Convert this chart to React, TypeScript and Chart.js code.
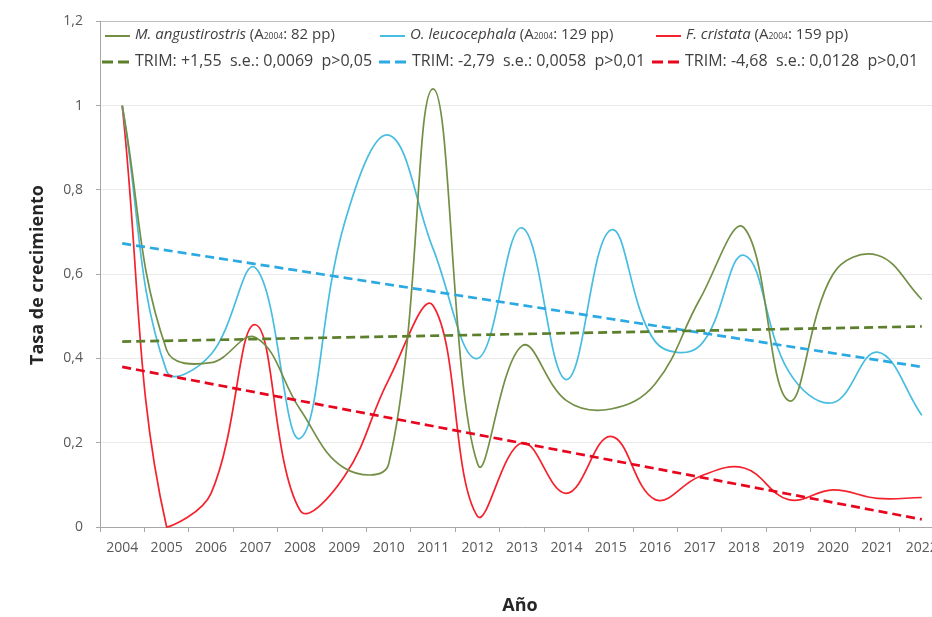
import React, { useEffect, useRef } from "react";
import { Chart, registerables } from "chart.js";

Chart.register(...registerables);

// Years on the category axis
const years = [
  "2004", "2005", "2006", "2007", "2008", "2009", "2010", "2011", "2012", "2013",
  "2014", "2015", "2016", "2017", "2018", "2019", "2020", "2021", "2022",
];

// Growth rate per species
const mAngustirostris = [1.0, 0.42, 0.39, 0.45, 0.28, 0.14, 0.15, 1.04, 0.15, 0.43, 0.3, 0.28, 0.34, 0.54, 0.71, 0.3, 0.6, 0.645, 0.54];
const oLeucocephala = [1.0, 0.37, 0.41, 0.615, 0.21, 0.72, 0.93, 0.66, 0.4, 0.71, 0.35, 0.705, 0.44, 0.43, 0.645, 0.37, 0.295, 0.415, 0.265];
const fCristata = [1.0, 0.0, 0.08, 0.48, 0.04, 0.12, 0.35, 0.525, 0.025, 0.2, 0.08, 0.215, 0.065, 0.12, 0.14, 0.065, 0.088, 0.068, 0.07];

// Linear TRIM trends: start (2004) and end (2022) values
const trendMStart = 0.44, trendMEnd = 0.476;
const trendOStart = 0.673, trendOEnd = 0.38;
const trendFStart = 0.38, trendFEnd = 0.018;

// Legend texts
const speciesNames = ["M. angustirostris", "O. leucocephala", "F. cristata"];
const speciesCounts = [": 82 pp)", ": 129 pp)", ": 159 pp)"];
const trimLabels = [
  "TRIM: +1,55  s.e.: 0,0069  p>0,05",
  "TRIM: -2,79  s.e.: 0,0058  p>0,01",
  "TRIM: -4,68  s.e.: 0,0128  p>0,01",
];
const yTickLabels = ["0", "0,2", "0,4", "0,6", "0,8", "1", "1,2"];

const FONT = "'Open Sans'";
const lineColors = ["#738f45", "#47bde0", "#f5212c"];
const trendColors = ["#5c7f2c", "#2aa9e2", "#e8061f"];

function trend(start: number, end: number) {
  return years.map((_, i) => (i === 0 ? start : i === years.length - 1 ? end : null));
}

const overlayPlugin = {
  id: "overlay",
  afterDraw(chart: any) {
    const ctx = chart.ctx as CanvasRenderingContext2D;
    ctx.save();
    const colX1 = [135, 410, 686];
    const colX2 = [135, 412, 685];
    const row1 = 35;
    const row2 = 61;
    ctx.textBaseline = "middle";
    ctx.textAlign = "left";
    for (let i = 0; i < 3; i++) {
      // solid sample
      let x = colX1[i];
      ctx.strokeStyle = lineColors[i];
      ctx.lineWidth = 2;
      ctx.setLineDash([]);
      ctx.beginPath();
      ctx.moveTo(x - 30, row1 + 1);
      ctx.lineTo(x - 5, row1 + 1);
      ctx.stroke();
      // label with italic species name
      ctx.fillStyle = "#404040";
      ctx.font = `italic 15px ${FONT}`;
      ctx.fillText(speciesNames[i], x, row1);
      x += ctx.measureText(speciesNames[i]).width;
      ctx.font = `15px ${FONT}`;
      ctx.fillText(" (A", x, row1);
      x += ctx.measureText(" (A").width;
      ctx.font = `8.5px ${FONT}`;
      ctx.fillText("2004", x, row1 + 2);
      x += ctx.measureText("2004").width;
      ctx.font = `15px ${FONT}`;
      ctx.fillText(speciesCounts[i], x, row1);

      // dashed sample
      const x2 = colX2[i];
      ctx.strokeStyle = trendColors[i];
      ctx.lineWidth = 3;
      ctx.setLineDash([11, 5]);
      ctx.beginPath();
      ctx.moveTo(x2 - 33, row2 + 1);
      ctx.lineTo(x2 - 6, row2 + 1);
      ctx.stroke();
      ctx.setLineDash([]);
      ctx.font = `16px ${FONT}`;
      ctx.fillStyle = "#404040";
      ctx.fillText(trimLabels[i], x2, row2);
    }

    // axis titles
    ctx.fillStyle = "#262626";
    ctx.font = `bold 18px ${FONT}`;
    ctx.textAlign = "center";
    ctx.fillText("Año", 520, 606);
    ctx.translate(38, 275);
    ctx.rotate(-Math.PI / 2);
    ctx.fillText("Tasa de crecimiento", 0, 0);
    ctx.restore();
  },
};

export default function App() {
  const ref = useRef<HTMLCanvasElement | null>(null);

  useEffect(() => {
    if (!ref.current) return;
    const solid = (label: string, data: number[], color: string) => ({
      label,
      data,
      borderColor: color,
      backgroundColor: color,
      borderWidth: 1.7,
      tension: 0.4,
      pointRadius: 0,
      clip: false as any,
    });
    const dashed = (label: string, data: (number | null)[], color: string) => ({
      label,
      data,
      borderColor: color,
      backgroundColor: color,
      borderWidth: 2.7,
      borderDash: [9, 5],
      tension: 0,
      spanGaps: true,
      pointRadius: 0,
    });
    const chart = new Chart(ref.current, {
      type: "line",
      data: {
        labels: years,
        datasets: [
          dashed(trimLabels[0], trend(trendMStart, trendMEnd), trendColors[0]),
          dashed(trimLabels[1], trend(trendOStart, trendOEnd), trendColors[1]),
          dashed(trimLabels[2], trend(trendFStart, trendFEnd), trendColors[2]),
          solid(speciesNames[0], mAngustirostris, lineColors[0]),
          solid(speciesNames[1], oLeucocephala, lineColors[1]),
          solid(speciesNames[2], fCristata, lineColors[2]),
        ],
      },
      options: {
        responsive: false,
        animation: false,
        devicePixelRatio: 1,
        layout: { padding: { left: 0, top: 18, right: 16, bottom: 50 } },
        plugins: { legend: { display: false }, tooltip: { enabled: false } },
        scales: {
          x: {
            type: "category",
            offset: true,
            grid: { offset: true, drawOnChartArea: false, tickLength: 5, color: "#a6a6a6" },
            border: { color: "#a6a6a6" },
            ticks: {
              autoSkip: false,
              maxRotation: 0,
              color: "#595959",
              font: { family: FONT, size: 14 },
              padding: 8,
            },
            afterFit: (s: any) => {
              s.height = 40;
            },
          },
          y: {
            min: 0,
            max: 1.2,
            ticks: {
              stepSize: 0.2,
              color: "#595959",
              font: { family: FONT, size: 14 },
              padding: 13,
              callback: (v: any) => yTickLabels[Math.round(Number(v) / 0.2)],
            },
            grid: {
              color: (c: any) => (c.tick && c.tick.value > 1.19 ? "#bdbdbd" : "#e9e9e9"),
              tickLength: 4,
              tickColor: "#a6a6a6",
            },
            border: { color: "#a6a6a6" },
            afterFit: (s: any) => {
              s.width = 100;
            },
          },
        },
      } as any,
      plugins: [overlayPlugin],
    });
    return () => chart.destroy();
  }, []);

  return (
    <div
      style={{
        position: "fixed",
        left: 0,
        top: 0,
        width: 932,
        height: 617,
        overflow: "hidden",
        background: "#fff",
      }}
    >
      <canvas ref={ref} width={960} height={617} style={{ display: "block", width: 960, height: 617 }} />
    </div>
  );
}
